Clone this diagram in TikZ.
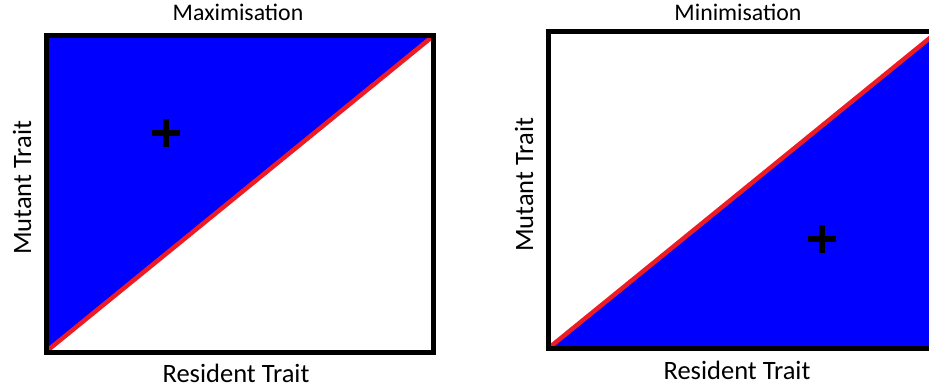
\documentclass[tikz,border=0pt]{standalone}
\usepackage{fontspec}
\setmainfont{Carlito}
\definecolor{fillblue}{RGB}{0,0,255}
\definecolor{diagred}{RGB}{237,28,36}
\begin{document}
\begin{tikzpicture}[x=1pt,y=-1pt,
  frame/.style={draw=black,line width=5pt},
  diag/.style={draw=diagred,line width=4.5pt},
  plus/.style={line width=6pt,black},
  titlelbl/.style={font=\fontsize{23.8}{26}\selectfont,inner sep=0pt},
  axislbl/.style={font=\fontsize{26.5}{29}\selectfont,inner sep=0pt}]
\useasboundingbox (0,0) rectangle (929,390);
% left panel
\fill[fillblue] (46.5,352) -- (46.5,35.5) -- (433,35.5) -- cycle;
\draw[diag] (48,350) -- (432,37);
\draw[frame] (46.5,35.5) rectangle (433,352);
\draw[plus] (152,133) -- (180,133) (166,119) -- (166,147);
\node[titlelbl] (t1) at (238,12) {Maximisation};
\node[axislbl] (x1) at (236,373) {Resident Trait};
\node[axislbl,rotate=90] (y1) at (22,188) {Mutant Trait};
% right panel
\begin{scope}
\clip (0,0) rectangle (929,390);
\fill[fillblue] (548.5,348.5) -- (937,348.5) -- (937,31.5) -- cycle;
\draw[diag] (550,347) -- (936,33);
\draw[frame] (548.5,31.5) rectangle (937,348.5);
\end{scope}
\draw[plus] (808,239) -- (836,239) (822,225) -- (822,253);
\node[titlelbl] (t2) at (738,12) {Minimisation};
\node[axislbl] (x2) at (737,370) {Resident Trait};
\node[axislbl,rotate=90] (y2) at (524,185) {Mutant Trait};
\end{tikzpicture}
\end{document}
